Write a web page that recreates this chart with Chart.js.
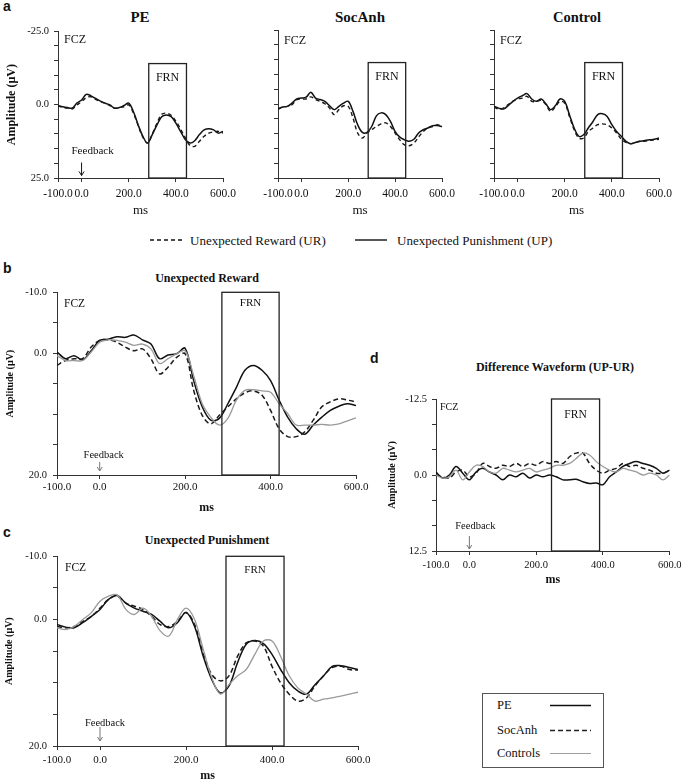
<!DOCTYPE html>
<html><head><meta charset="utf-8">
<script src="https://cdn.jsdelivr.net/npm/chart.js@4.4.1/dist/chart.umd.min.js"></script>
<style>
body{margin:0;background:#fff;}
#root{position:relative;width:685px;height:783px;overflow:hidden;font-family:"Liberation Serif","Times New Roman",serif;color:#111;}
canvas{position:absolute;}
.t{position:absolute;white-space:nowrap;line-height:1;}
.lt{font-family:"Liberation Sans",Arial,sans-serif;font-weight:bold;font-size:14px;transform:translateY(-50%);}
.ttl{font-weight:bold;transform:translate(-50%,-50%);}
.vm{transform:translateY(-50%);}
svg{position:absolute;left:0;top:0;}
</style></head><body><div id="root">
<div class="t lt" style="left:3px;top:6px">a</div>
<div class="t ttl" style="left:140px;top:17px;font-size:15px">PE</div>
<div class="t ttl" style="left:360px;top:17px;font-size:15px">SocAnh</div>
<div class="t ttl" style="left:577px;top:17px;font-size:14.5px">Control</div>
<div class="t vm" style="left:190px;top:240px;font-size:13px">Unexpected Reward (UR)</div>
<div class="t vm" style="left:397px;top:240px;font-size:13px">Unexpected Punishment (UP)</div>
<div class="t lt" style="left:3px;top:268px">b</div>
<div class="t ttl" style="left:207px;top:278px;font-size:12px">Unexpected Reward</div>
<div class="t lt" style="left:3px;top:532px">c</div>
<div class="t ttl" style="left:207px;top:540px;font-size:12px">Unexpected Punishment</div>
<div class="t lt" style="left:370px;top:358px">d</div>
<div class="t ttl" style="left:555px;top:367px;font-size:12px">Difference Waveform (UP-UR)</div>
<div class="t" style="left:482px;top:693px;width:120px;height:73px;border:1px solid #555;"></div>
<div class="t vm" style="left:497px;top:705px;font-size:12.5px">PE</div>
<div class="t vm" style="left:497px;top:730px;font-size:12.5px">SocAnh</div>
<div class="t vm" style="left:497px;top:753px;font-size:12.5px">Controls</div>
<svg width="685" height="783">
<line x1="150" y1="240" x2="182" y2="240" stroke="#111" stroke-width="1.3" stroke-dasharray="4,3"/>
<line x1="355" y1="240" x2="387" y2="240" stroke="#111" stroke-width="1.4"/>
<line x1="550" y1="705.5" x2="591" y2="705.5" stroke="#111" stroke-width="1.4"/>
<line x1="550" y1="730.5" x2="591" y2="730.5" stroke="#222" stroke-width="1.4" stroke-dasharray="5,3"/>
<line x1="550" y1="753.5" x2="591" y2="753.5" stroke="#a0a0a0" stroke-width="1.2"/>
</svg>
</div>
<script>
// ---- data (µV, negative plotted upward) ----
const timesMs = [-100,-80,-60,-40,-20,0,20,40,60,80,100,120,140,160,180,200,220,240,260,280,300,320,340,360,380,400,420,440,460,480,500,520,540,560,580,600];
const xTickValues = [-100,0,200,400,600];

// panel a: UR (dashed) / UP (solid) per group
const peUR  = [0.3,1.0,1.2,1.5,0.1,-1.0,-2.4,-2.7,-1.8,-1.0,-0.5,0.3,1.2,1.0,0.7,0.1,2.9,7.1,11.1,13.1,10.0,6.3,3.3,2.9,3.6,5.6,8.3,11.3,13.9,14.2,12.5,10.8,9.7,9.3,9.1,9.7];
const peUP  = [0.3,0.7,1.0,1.2,-0.5,-1.6,-3.5,-3.0,-2.1,-1.2,-0.5,0.1,1.2,1.0,0.3,-0.5,2.4,6.9,10.8,13.1,10.2,6.9,4.1,3.5,4.1,6.3,9.1,11.9,13.1,12.3,10.2,8.6,8.2,8.6,9.7,9.1];
const socUR = [1.7,1.0,0.8,0.2,-1.5,-1.7,-1.7,-2.4,-1.5,-0.9,-0.1,1.4,3.6,1.9,0.6,0.8,4.7,9.8,11.5,9.8,8.7,7.6,6.7,6.4,7.6,9.8,12.1,13.8,14.1,13.2,11.2,9.3,8.1,7.6,7.0,7.6];
const socUP = [1.7,1.0,0.8,-0.3,-1.7,-2.0,-2.3,-4.0,-2.0,-1.5,-0.9,0.6,1.9,0.8,-0.3,-0.9,2.5,7.0,9.6,9.6,7.6,4.0,3.0,3.6,5.9,9.3,11.2,12.1,12.6,11.9,9.8,8.7,8.1,7.3,7.3,7.6];
const ctlUR = [1.0,1.7,1.4,0.2,-0.9,-1.7,-2.0,-2.6,-0.9,-0.9,-1.2,0.2,2.5,1.0,-0.9,-0.3,4.2,8.7,11.5,11.5,9.3,8.1,7.0,6.7,7.0,8.1,9.8,11.9,13.0,13.4,13.0,12.6,12.6,12.3,12.1,11.9];
const ctlUP = [0.8,1.4,1.7,0.6,-0.9,-2.0,-2.8,-3.5,-1.7,-0.9,-1.7,-0.1,1.9,0.6,-1.7,-0.9,3.6,8.1,10.9,10.4,8.1,5.9,3.6,3.3,4.2,7.0,9.3,10.9,12.6,13.4,13.0,12.6,12.3,12.1,11.9,11.5];

// panel b: unexpected reward
const peRew  = [-0.2,0.9,0.4,1.1,-0.4,-2.1,-2.3,-2.7,-2.6,-3.0,-2.2,-1.5,0.9,0.3,0.1,-0.8,4.5,8.8,11.0,10.7,8.3,5.6,2.8,2.0,2.8,4.5,7.7,10.5,12.4,13.3,11.8,10.5,9.4,8.7,8.3,8.6];
const socRew = [2.0,1.2,0.9,0.9,-1.0,-2.1,-2.2,-1.8,-1.0,-0.4,-0.7,0.9,3.4,2.3,0.7,0.1,6.1,10.2,11.6,10.2,8.8,7.5,6.5,6.2,6.9,9.4,12.4,13.7,13.7,12.9,11.0,8.8,8.0,7.5,7.7,8.0];
const ctlRew = [0.4,1.2,1.2,1.2,-0.2,-1.8,-2.2,-2.1,-1.8,-1.3,-1.5,-0.7,1.7,0.9,0.1,-0.4,3.7,8.3,10.5,11.8,10.7,7.7,6.1,6.0,6.2,6.4,8.3,9.9,11.8,11.8,11.8,11.7,11.8,11.6,11.1,10.6];

// panel c: unexpected punishment
const pePun  = [0.8,1.2,1.3,0.5,-0.5,-1.6,-3.2,-3.8,-2.6,-1.8,-1.3,-0.8,0.3,1.3,0.5,-1.1,1.1,5.8,9.5,11.6,10.5,6.8,3.9,3.3,3.8,5.5,7.9,10.0,11.3,11.8,10.3,8.9,7.4,7.3,7.6,7.9];
const socPun = [1.1,1.3,1.1,0.3,-0.5,-1.8,-3.2,-3.7,-2.6,-2.1,-1.6,-0.5,0.8,1.1,0.3,-1.1,0.8,5.3,8.7,9.7,8.9,5.8,3.7,3.4,4.2,7.4,10.0,11.8,12.9,12.4,10.5,8.9,7.6,7.4,7.9,8.0];
const ctlPun = [1.3,1.6,1.1,0.0,-1.1,-2.9,-3.7,-3.9,-1.6,-0.8,-1.8,-0.5,1.8,2.6,0.0,-1.8,0.0,4.7,9.2,11.8,10.3,8.9,7.9,5.5,3.4,3.4,5.8,8.9,10.8,11.8,12.9,12.6,12.4,12.1,11.8,11.5];

// panel d: difference UP-UR
const peDiff  = [-0.5,0.5,0,-1.4,-0.3,0.8,-0.5,-1.1,-0.5,0,0.8,0,0.3,-0.3,0.5,0,0.3,0,0.3,0.8,0.8,0.7,1.1,1.4,1.3,1.6,0.3,-0.5,-1.4,-1.9,-2.2,-1.9,-1.6,-1.1,-0.3,-0.8];
const socDiff = [0,0.3,0.5,-0.5,-0.8,0.3,-0.3,-1.9,-1.4,-1.1,-1.6,-1.4,-1.9,-1.4,-1.9,-1.6,-2.2,-1.9,-2.2,-1.9,-3.0,-3.6,-3.6,-1.9,-0.8,-0.3,-0.8,-1.1,-1.9,-1.4,-1.6,-1.1,-0.8,-0.3,-0.3,-0.8];
const ctlDiff = [0,0.5,0.3,-0.8,0.8,-0.5,-1.6,-1.4,-0.5,-0.3,-1.1,-0.8,-0.5,-0.8,-1.1,-0.5,-0.8,-1.1,-1.6,-1.6,-1.9,-2.7,-3.6,-3.3,-2.2,-1.4,-0.8,-0.5,-1.1,-0.8,-0.5,0,-0.3,0,0.8,0];

// axes ticks / labels
const aYTicks = [-25,-20,-15,-10,-5,0,5,10,15,20,25];
const aYLabels = [-25,0,25];
const bcYTicks = [-10,-5,0,5,10,15,20];
const bcYLabels = [-10,0,20];
const dYTicks = [-12.5,-8.333,-4.167,0,4.167,8.333,12.5];
const dYLabels = [-12.5,0,12.5];

// FRN windows (ms) and box tops (µV)
const frnA = [285, 445]; const frnTopA = -14;
const frnB = [286, 420]; const frnTopB = -10;
const frnC = [293, 428]; const frnTopC = -10;
const frnD = [246, 390]; const frnTopD = -12.5;

const SERIF = "'Liberation Serif','Times New Roman',serif";
Chart.defaults.font.family = SERIF;
Chart.defaults.color = '#111';

const annot = {
  id: 'annot',
  afterDatasetsDraw(chart, args, o) {
    if (!o || !o.frn) return;
    const {ctx, chartArea: ca, scales: {x, y}} = chart;
    ctx.save();
    const x1 = x.getPixelForValue(o.frn[0]), x2 = x.getPixelForValue(o.frn[1]);
    const yt = y.getPixelForValue(o.frnTop);
    ctx.strokeStyle = '#222'; ctx.lineWidth = 1.3;
    ctx.strokeRect(x1, yt, x2 - x1, ca.bottom - yt);
    ctx.fillStyle = '#111'; ctx.textBaseline = 'middle';
    ctx.font = o.frnSize + 'px ' + SERIF; ctx.textAlign = 'center';
    ctx.fillText('FRN', (x1 + x2) / 2, yt + o.frnDy);
    ctx.font = o.fczSize + 'px ' + SERIF; ctx.textAlign = 'left';
    ctx.fillText('FCZ', ca.left + o.fczDx, ca.top + o.fczDy);
    if (o.fb) {
      const xf = x.getPixelForValue(0);
      ctx.font = o.fb.size + 'px ' + SERIF; ctx.textAlign = 'center';
      ctx.fillText('Feedback', xf + o.fb.dx, ca.bottom - o.fb.textUp);
      ctx.strokeStyle = o.fb.color; ctx.lineWidth = 1;
      const ay1 = ca.bottom - o.fb.top, ay2 = ca.bottom - o.fb.bot;
      ctx.beginPath(); ctx.moveTo(xf, ay1); ctx.lineTo(xf, ay2);
      ctx.moveTo(xf - 2.5, ay2 - 4); ctx.lineTo(xf, ay2); ctx.lineTo(xf + 2.5, ay2 - 4);
      ctx.stroke();
    }
    ctx.restore();
  }
};
Chart.register(annot);

const root = document.getElementById('root');
function makePanel(c) {
  const left = Math.round(c.L - c.ml), top = Math.round(c.T - c.mt);
  const right = Math.round(c.R + c.mr), bottom = Math.round(c.B + c.mb);
  const W = right - left, H = bottom - top;
  const aml = Math.round(c.L) - left, amt = Math.round(c.T) - top;
  const amr = right - Math.round(c.R), amb = bottom - Math.round(c.B);
  const cv = document.createElement('canvas');
  cv.width = W; cv.height = H;
  cv.style.left = left + 'px'; cv.style.top = top + 'px';
  cv.style.width = W + 'px'; cv.style.height = H + 'px';
  root.appendChild(cv);
  new Chart(cv, {
    type: 'line',
    data: { datasets: c.series.map(s => ({
      data: timesMs.map((t, i) => ({x: t, y: s.values[i]})),
      borderColor: s.color, borderWidth: s.width, borderDash: s.dash || [],
      pointRadius: 0, tension: 0.35, fill: false
    })) },
    options: {
      responsive: false, animation: false, events: [],
      layout: { padding: { left: 0, top: amt, right: amr, bottom: 0 } },
      plugins: { legend: {display: false}, tooltip: {enabled: false}, annot: c.annot },
      scales: {
        x: {
          type: 'linear', min: -100, max: 600,
          afterBuildTicks: s => { s.ticks = xTickValues.map(v => ({value: v})); },
          afterFit: s => { s.height = amb; },
          ticks: { font: {size: c.xTickSize}, color: '#111', padding: c.xTickPad, maxRotation: 0, autoSkip: false, callback: v => Number(v).toFixed(1) },
          grid: { drawOnChartArea: false, drawTicks: true, tickLength: 4, color: '#333' },
          border: { color: '#333', width: 1 },
          title: { display: true, text: 'ms', color: '#111',
            font: {size: c.msSize, weight: c.msWeight, lineHeight: 1},
            padding: {top: 0, bottom: Math.max(0, H - (c.msY - top) - c.msSize / 2)} }
        },
        y: {
          type: 'linear', reverse: true, min: c.yTicks[0], max: c.yTicks[c.yTicks.length - 1],
          afterBuildTicks: s => { s.ticks = c.yTicks.map(v => ({value: v})); },
          afterFit: s => { s.width = aml; },
          ticks: { display: c.yLabels.length > 0, autoSkip: false, font: {size: c.yTickSize}, color: '#111', padding: c.yTickPad,
            callback: v => c.yLabels.includes(v) ? Number(v).toFixed(1) : '' },
          grid: { drawOnChartArea: false, drawTicks: true, tickLength: 4, color: '#333' },
          border: { color: '#333', width: 1 },
          title: { display: !!c.yTitle, text: c.yTitle || '', color: '#111',
            font: {size: c.yTitleSize || 12, weight: 'bold', lineHeight: 1},
            padding: {top: Math.max(0, (c.yTitleX || 0) - left - (c.yTitleSize || 12) / 2), bottom: 0} }
        }
      }
    }
  });
}

const BLACK = '#111', DASH = '#1a1a1a', GRAY = '#9a9a9a';
function pairSeries(ur, up) {
  return [
    {values: ur, color: DASH, width: 1.4, dash: [4, 3]},
    {values: up, color: BLACK, width: 1.5}
  ];
}
function groupSeries(pe, soc, ctl) {
  return [
    {values: ctl, color: GRAY, width: 1.3},
    {values: soc, color: DASH, width: 1.5, dash: [5, 3]},
    {values: pe, color: BLACK, width: 1.5}
  ];
}
const annA = (fczDx, fczDy, fb) => ({frn: frnA, frnTop: frnTopA, frnSize: 12, frnDy: 14, fczSize: 12, fczDx, fczDy, fb});
const baseA = {T: 30, B: 177.5, mt: 10, mr: 18, mb: 45, xTickSize: 11.5, xTickPad: 5, msY: 211, msSize: 13, msWeight: 'normal',
  yTicks: aYTicks, yTickSize: 10.5, yTickPad: 5};

makePanel(Object.assign({}, baseA, {L: 58, R: 223, ml: 58, yLabels: aYLabels,
  yTitle: 'Amplitude (µV)', yTitleSize: 12, yTitleX: 12,
  series: pairSeries(peUR, peUP),
  annot: annA(6, 9, {size: 11, dx: 11, textUp: 26.5, top: 15.5, bot: 2.5, color: '#111'})}));
makePanel(Object.assign({}, baseA, {L: 278, R: 442, ml: 30, yLabels: [],
  series: pairSeries(socUR, socUP), annot: annA(6, 11, null)}));
makePanel(Object.assign({}, baseA, {L: 494, R: 659, ml: 30, yLabels: [],
  series: pairSeries(ctlUR, ctlUP), annot: annA(6, 11, null)}));

makePanel({L: 57, R: 356, T: 292, B: 475, ml: 57, mt: 12, mr: 18, mb: 45,
  xTickSize: 11, xTickPad: 2, msY: 508, msSize: 12, msWeight: 'bold',
  yTicks: bcYTicks, yLabels: bcYLabels, yTickSize: 10.5, yTickPad: 6,
  yTitle: 'Amplitude (µV)', yTitleSize: 10, yTitleX: 10,
  series: groupSeries(peRew, socRew, ctlRew),
  annot: {frn: frnB, frnTop: frnTopB, frnSize: 11, frnDy: 11, fczSize: 11.5, fczDx: 7, fczDy: 12,
    fb: {size: 10.5, dx: 4, textUp: 20, top: 13, bot: 4, color: '#777'}}});

makePanel({L: 57, R: 358, T: 556, B: 746, ml: 57, mt: 12, mr: 18, mb: 37,
  xTickSize: 11, xTickPad: 4, msY: 776, msSize: 12, msWeight: 'bold',
  yTicks: bcYTicks, yLabels: bcYLabels, yTickSize: 10.5, yTickPad: 6,
  yTitle: 'Amplitude (µV)', yTitleSize: 10, yTitleX: 9,
  series: groupSeries(pePun, socPun, ctlPun),
  annot: {frn: frnC, frnTop: frnTopC, frnSize: 11, frnDy: 14, fczSize: 11.5, fczDx: 8, fczDy: 12,
    fb: {size: 10.5, dx: 5, textUp: 23, top: 19, bot: 5, color: '#777'}}});

makePanel({L: 436, R: 673, T: 399, B: 551, ml: 56, mt: 12, mr: 12, mb: 40,
  xTickSize: 10.5, xTickPad: 3.5, msY: 580, msSize: 12, msWeight: 'bold',
  yTicks: dYTicks, yLabels: dYLabels, yTickSize: 10.5, yTickPad: 5,
  yTitle: 'Amplitude (µV)', yTitleSize: 10, yTitleX: 392,
  series: groupSeries(peDiff, socDiff, ctlDiff),
  annot: {frn: frnD, frnTop: frnTopD, frnSize: 11.5, frnDy: 16, fczSize: 10, fczDx: 4, fczDy: 8,
    fb: {size: 10.5, dx: 6, textUp: 25, top: 15, bot: 2, color: '#777'}}});
</script>
</body></html>
